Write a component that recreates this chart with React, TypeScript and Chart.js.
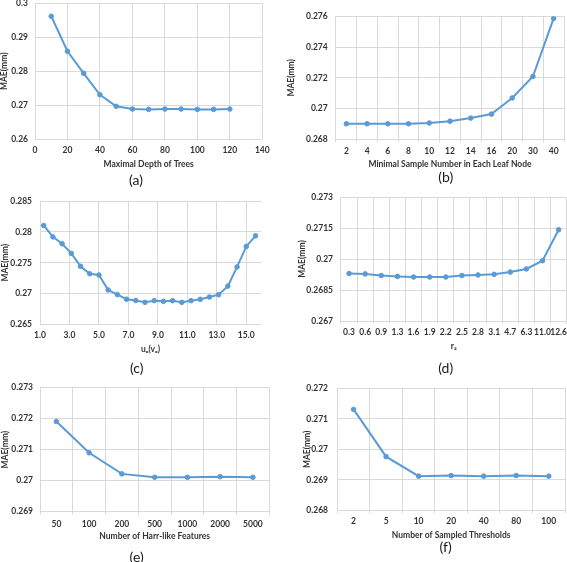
import React, { useEffect, useRef } from "react";
import { Chart, registerables } from "chart.js";

Chart.register(...registerables);

// ---------------- data ----------------
// (a) Maximal depth of trees
const depthValues = [10, 20, 30, 40, 50, 60, 70, 80, 90, 100, 110, 120];
const depthMae = [0.2962, 0.2859, 0.2794, 0.2731, 0.2697, 0.2689, 0.2688, 0.2689, 0.2689, 0.2688, 0.2688, 0.2689];
const depthXTicks = ["0", "20", "40", "60", "80", "100", "120", "140"];
const depthYTicks = ["0.26", "0.27", "0.28", "0.29", "0.3"];

// (b) Minimal sample number in each leaf node
const leafCategories = ["2", "4", "6", "8", "10", "12", "14", "16", "20", "30", "40"];
const leafMae = [0.26901, 0.26901, 0.26901, 0.26901, 0.26906, 0.26918, 0.26938, 0.26964, 0.27069, 0.27209, 0.27587];
const leafYTicks = ["0.268", "0.27", "0.272", "0.274", "0.276"];

// (c) u_o(v_o)
const uoValues = [1.25, 1.875, 2.5, 3.125, 3.75, 4.375, 5, 5.625, 6.25, 6.875, 7.5, 8.125, 8.75, 9.375, 10, 10.625, 11.25, 11.875, 12.5, 13.125, 13.75, 14.375, 15, 15.625];
const uoMae = [0.28105, 0.2792, 0.27809, 0.27652, 0.27443, 0.27322, 0.27303, 0.2706, 0.26985, 0.2691, 0.2689, 0.26859, 0.26886, 0.26875, 0.26886, 0.26859, 0.26886, 0.26908, 0.26945, 0.26983, 0.27122, 0.27433, 0.27765, 0.27937];
const uoXTicks = ["1.0", "3.0", "5.0", "7.0", "9.0", "11.0", "13.0", "15.0"];
const uoXMax = 16;
const uoYTicks = ["0.265", "0.27", "0.275", "0.28", "0.285"];

// (d) r2
const r2Categories = ["0.3", "0.6", "0.9", "1.3", "1.6", "1.9", "2.2", "2.5", "2.8", "3.1", "4.7", "6.3", "11.0", "12.6"];
const r2Mae = [0.2693, 0.26928, 0.2692, 0.26916, 0.26913, 0.26913, 0.26913, 0.2692, 0.26923, 0.26926, 0.26937, 0.26952, 0.26992, 0.27142];
const r2YTicks = ["0.267", "0.2685", "0.27", "0.2715", "0.273"];

// (e) Number of Harr-like features
const featureCategories = ["50", "100", "200", "500", "1000", "2000", "5000"];
const featureMae = [0.27191, 0.2709, 0.27022, 0.27011, 0.27011, 0.27013, 0.27011];
const featureYTicks = ["0.269", "0.27", "0.271", "0.272", "0.273"];

// (f) Number of sampled thresholds
const thresholdCategories = ["2", "5", "10", "20", "40", "80", "100"];
const thresholdMae = [0.27131, 0.26976, 0.26912, 0.26914, 0.26912, 0.26914, 0.26912];
const thresholdYTicks = ["0.268", "0.269", "0.27", "0.271", "0.272"];

// ---------------- styles ----------------
const FONT = "Lato, 'DejaVu Sans', sans-serif";
const BLUE = "#5B9BD5";
const GRID = "#D9D9D9";
const TEXT = "#333333";
const TICK_SIZE = 8.5;
const TITLE_SIZE = 8.5;

type Box = {
  plotL: number; plotT: number; plotR: number; plotB: number;
  yLabelRight: number; yTitleX: number; xLabelY: number; xTitleY: number;
  capX: number; capY: number;
};

type PanelSpec = {
  kind: "linear" | "category";
  xs: (number | string)[];
  ys: number[];
  xTicks?: string[];
  xMax?: number;
  yTicks: string[];
  xTitle: string;
  caption: string;
  box: Box;
};

const panels: PanelSpec[] = [
  {
    kind: "linear", xs: depthValues, ys: depthMae, xTicks: depthXTicks, yTicks: depthYTicks,
    xTitle: "Maximal Depth of Trees", caption: "(a)",
    box: { plotL: 35, plotT: 3.3, plotR: 262.3, plotB: 139.3, yLabelRight: 28, yTitleX: 4.5, xLabelY: 150.7, xTitleY: 164, capX: 136, capY: 180 },
  },
  {
    kind: "category", xs: leafCategories, ys: leafMae, yTicks: leafYTicks,
    xTitle: "Minimal Sample Number in Each Leaf Node", caption: "(b)",
    box: { plotL: 336, plotT: 15.7, plotR: 564, plotB: 139.3, yLabelRight: 327.7, yTitleX: 291.7, xLabelY: 151.7, xTitleY: 164.3, capX: 445.7, capY: 177 },
  },
  {
    kind: "linear", xs: uoValues, ys: uoMae, xTicks: uoXTicks, xMax: uoXMax, yTicks: uoYTicks,
    xTitle: "u\u2092(v\u2092)", caption: "(c)",
    box: { plotL: 40, plotT: 200, plotR: 261, plotB: 324.5, yLabelRight: 32, yTitleX: 5, xLabelY: 335.7, xTitleY: 349.3, capX: 136.7, capY: 367.7 },
  },
  {
    kind: "category", xs: r2Categories, ys: r2Mae, yTicks: r2YTicks,
    xTitle: "r\u2082", caption: "(d)",
    box: { plotL: 341, plotT: 196.7, plotR: 566.7, plotB: 321, yLabelRight: 333, yTitleX: 302.7, xLabelY: 332.3, xTitleY: 346.7, capX: 445.7, capY: 368 },
  },
  {
    kind: "category", xs: featureCategories, ys: featureMae, yTicks: featureYTicks,
    xTitle: "Number of Harr-like Features", caption: "(e)",
    box: { plotL: 40, plotT: 387.7, plotR: 269.3, plotB: 511.7, yLabelRight: 33, yTitleX: 5, xLabelY: 524, xTitleY: 536, capX: 136.7, capY: 556.7 },
  },
  {
    kind: "category", xs: thresholdCategories, ys: thresholdMae, yTicks: thresholdYTicks,
    xTitle: "Number of Sampled Thresholds", caption: "(f)",
    box: { plotL: 337.3, plotT: 386, plotR: 565, plotB: 510.3, yLabelRight: 328, yTitleX: 307.3, xLabelY: 521.7, xTitleY: 535, capX: 445.7, capY: 547.3 },
  },
];

function geometry(b: Box) {
  const lh = TITLE_SIZE * 1.2;
  const cl = Math.floor(b.yTitleX - lh / 2 - 1);
  const yTitlePad = b.yTitleX - lh / 2 - cl;
  const ct = Math.floor(b.plotT - 12);
  const cr = Math.ceil(b.plotR + 16);
  const xAxisH = b.xTitleY - b.plotB + lh / 2;
  const cb = Math.ceil(b.plotB + xAxisH + 2);
  return {
    left: cl, top: ct, width: cr - cl, height: cb - ct,
    yTitlePad, xAxisH,
    padding: { left: 0, top: b.plotT - ct, right: cr - b.plotR, bottom: cb - (b.plotB + xAxisH) },
    yAxisW: b.plotL - cl,
  };
}

function Panel({ spec }: { spec: PanelSpec }) {
  const ref = useRef<HTMLCanvasElement | null>(null);
  const g = geometry(spec.box);

  useEffect(() => {
    const canvas = ref.current;
    if (!canvas) return;
    const b = spec.box;
    const isCat = spec.kind === "category";
    const tickLen = isCat ? 3 : 0;
    const xLabelPad = b.xLabelY - b.plotB - tickLen - TICK_SIZE * 0.6;
    const tickFont = { family: FONT, size: TICK_SIZE, weight: "bold" as const };
    const titleFont = { family: FONT, size: TITLE_SIZE, weight: "bold" as const };
    const yVals = spec.yTicks.map(Number);

    const data = isCat
      ? { labels: spec.xs as string[], datasets: [{ data: spec.ys }] }
      : { datasets: [{ data: (spec.xs as number[]).map((x, i) => ({ x, y: spec.ys[i] })) }] };

    const xScale: any = isCat
      ? {
          type: "category",
          offset: true,
          grid: { offset: true, color: GRID, lineWidth: 1, drawTicks: true, tickLength: 3, tickColor: GRID },
          border: { display: false },
          ticks: { font: tickFont, color: TEXT, padding: xLabelPad, autoSkip: false, maxRotation: 0 },
        }
      : {
          type: "linear",
          min: Number(spec.xTicks![0]),
          max: spec.xMax !== undefined ? spec.xMax : Number(spec.xTicks![spec.xTicks!.length - 1]),
          grid: { color: GRID, lineWidth: 1, drawTicks: false },
          border: { display: false },
          afterBuildTicks: (axis: any) => {
            axis.ticks = spec.xTicks!.map((t) => ({ value: Number(t) }));
          },
          ticks: {
            font: tickFont, color: TEXT, padding: xLabelPad, autoSkip: false, maxRotation: 0,
            callback: (_v: any, i: number) => spec.xTicks![i],
          },
        };
    xScale.title = { display: true, text: spec.xTitle, font: titleFont, color: TEXT, padding: 0 };
    xScale.afterFit = (s: any) => { s.height = g.xAxisH; };

    const yScale: any = {
      type: "linear",
      min: yVals[0],
      max: yVals[yVals.length - 1],
      grid: { color: GRID, lineWidth: 1, drawTicks: false },
      border: { display: false },
      afterBuildTicks: (axis: any) => {
        axis.ticks = yVals.map((v) => ({ value: v }));
      },
      ticks: {
        font: tickFont, color: TEXT, padding: b.plotL - b.yLabelRight,
        callback: (_v: any, i: number) => spec.yTicks[i],
      },
      title: { display: true, text: "MAE(mm)", font: titleFont, color: TEXT, padding: { top: g.yTitlePad, bottom: 0 } },
      afterFit: (s: any) => { s.width = g.yAxisW; },
    };

    const chart = new Chart(canvas, {
      type: "line",
      data: data as any,
      options: {
        responsive: false,
        animation: false,
        devicePixelRatio: 1,
        layout: { padding: g.padding },
        plugins: { legend: { display: false }, tooltip: { enabled: false }, title: { display: false } },
        elements: {
          line: { borderColor: BLUE, borderWidth: 2, tension: 0, fill: false },
          point: { radius: 2.3, backgroundColor: BLUE, borderColor: BLUE, borderWidth: 1 },
        },
        scales: { x: xScale, y: yScale },
      },
    });
    return () => chart.destroy();
  }, []);

  return (
    <>
      <canvas
        ref={ref}
        width={g.width}
        height={g.height}
        style={{ position: "absolute", left: g.left, top: g.top, width: g.width, height: g.height }}
      />
      <div
        style={{
          position: "absolute", left: spec.box.capX, top: spec.box.capY,
          transform: "translate(-50%, -50%)", fontFamily: FONT, fontSize: 14,
          color: "#1a1a1a", lineHeight: 1, whiteSpace: "nowrap",
        }}
      >
        {spec.caption}
      </div>
    </>
  );
}

export default function App() {
  return (
    <div
      style={{
        position: "absolute", left: 0, top: 0, width: 567, height: 562,
        overflow: "hidden", background: "#ffffff",
      }}
    >
      {panels.map((p, i) => (
        <Panel key={i} spec={p} />
      ))}
    </div>
  );
}
